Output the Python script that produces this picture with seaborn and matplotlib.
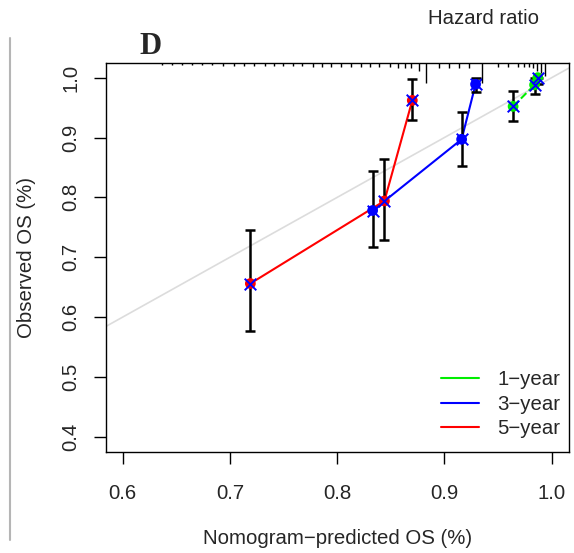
import numpy as np
import pandas as pd
import matplotlib
matplotlib.use("Agg")
import matplotlib.pyplot as plt
import seaborn as sns
from matplotlib.lines import Line2D
from matplotlib.transforms import blended_transform_factory

# ---------------- data ----------------
series_names = ["1\u2212year", "3\u2212year", "5\u2212year"]
series_colors = ["#00ee00", "#0000ff", "#ff0000"]

pred_1y = [0.964, 0.984, 0.987]
obs_1y = [0.952, 0.988, 1.000]
lo_1y = [0.928, 0.973, 0.990]
hi_1y = [0.978, 1.000, 1.000]

pred_3y = [0.833, 0.916, 0.929]
obs_3y = [0.778, 0.897, 0.989]
lo_3y = [0.717, 0.852, 0.976]
hi_3y = [0.844, 0.942, 1.000]

pred_5y = [0.719, 0.844, 0.870]
obs_5y = [0.656, 0.794, 0.962]
lo_5y = [0.576, 0.729, 0.930]
hi_5y = [0.745, 0.864, 0.997]

# distribution of predicted values (rug along the top)
rug_x = [0.6366, 0.6460, 0.6553, 0.6646, 0.6739, 0.6833, 0.6935, 0.7038, 0.7131,
         0.7225, 0.7327, 0.7411, 0.7495, 0.7588, 0.7672, 0.7775, 0.7859, 0.7943,
         0.8036, 0.8129, 0.8222, 0.8306, 0.8390, 0.8493, 0.8567, 0.8632, 0.8688,
         0.8763, 0.8828, 0.8949, 0.9043, 0.9136, 0.9229, 0.9350, 0.9500, 0.9593,
         0.9686, 0.9742, 0.9788, 0.9826, 0.9863, 0.9900, 0.9937]
rug_freq = [0.6, 0.6, 0.6, 0.6, 0.6, 0.6, 1, 1, 1,
            1, 1, 1, 1, 1, 1, 1.6, 1.6, 1.6,
            1.6, 1.6, 1.6, 1.6, 1.6, 1.6, 2, 2, 2,
            3, 8, 2, 2, 2, 2, 8, 1.6, 1.6,
            1.6, 1.6, 1.6, 2, 3, 4, 5]

x_ticks = [0.6, 0.7, 0.8, 0.9, 1.0]
y_ticks = [0.4, 0.5, 0.6, 0.7, 0.8, 0.9, 1.0]

frames = []
for name, p, o, lo, hi in zip(series_names,
                              [pred_1y, pred_3y, pred_5y],
                              [obs_1y, obs_3y, obs_5y],
                              [lo_1y, lo_3y, lo_5y],
                              [hi_1y, hi_3y, hi_5y]):
    frames.append(pd.DataFrame({"series": name, "pred": p, "obs": o, "lo": lo, "hi": hi}))
df = pd.concat(frames, ignore_index=True)
palette = dict(zip(series_names, series_colors))

# ---------------- figure ----------------
sns.set_style("white")
plt.rcParams["font.family"] = ["Liberation Sans", "DejaVu Sans"]
FS = 14.7

W, H = 574, 553
fig = plt.figure(figsize=(W / 100, H / 100), dpi=100)
ax = fig.add_axes([105.7 / W, 1 - 451.7 / H, (569.3 - 105.7) / W, (451.7 - 63.3) / H])

xlim = (0.5841, 1.0164)
ylim = (0.375, 1.024)

# diagonal reference
ax.plot([0, 1.2], [0, 1.2], color="#dcdcdc", lw=1.2, zorder=1)

# lines
for name in series_names:
    sub = df[df.series == name]
    sns.lineplot(data=sub, x="pred", y="obs", color=palette[name], lw=1.5,
                 ax=ax, sort=True, estimator=None, zorder=2,
                 linestyle="--" if name == series_names[0] else "-",
                 dashes=False)

# error bars
ax.errorbar(df["pred"], df["obs"],
            yerr=[df["obs"] - df["lo"], df["hi"] - df["obs"]],
            fmt="none", ecolor="black", elinewidth=1.8, capsize=3.6, capthick=1.8, zorder=3)

# points
sns.scatterplot(data=df, x="pred", y="obs", hue="series", palette=palette,
                s=60, edgecolor="none", legend=False, ax=ax, zorder=4)
sns.scatterplot(data=df, x="pred", y="obs", color="#0000ff", marker="x",
                s=70, linewidth=1.4, legend=False, ax=ax, zorder=5)

# rug of predicted distribution along the top
trans = blended_transform_factory(ax.transData, ax.transAxes)
unit = 2.5 / 388.4
ax.vlines(rug_x, [1 - f * unit for f in rug_freq], 1, transform=trans,
          color="black", lw=1.0, zorder=6)

ax.set_xlim(*xlim)
ax.set_ylim(*ylim)
ax.set_xticks(x_ticks)
ax.set_yticks(y_ticks)
ax.set_xticklabels([f"{v:.1f}" for v in x_ticks])
ax.set_yticklabels([f"{v:.1f}" for v in y_ticks], rotation=90, va="center")
ax.tick_params(axis="both", direction="out", length=8.3, width=1, color="black",
               labelsize=FS, bottom=True, left=True)
ax.tick_params(axis="x", pad=15)
ax.tick_params(axis="y", pad=10)
for s in ax.spines.values():
    s.set_color("black")
    s.set_linewidth(1.0)

ax.set_xlabel("Nomogram\u2212predicted OS (%)", fontsize=FS, labelpad=19)
ax.set_ylabel("Observed OS (%)", fontsize=FS, labelpad=18)

handles = [Line2D([0], [0], color=c, lw=1.5) for c in series_colors]
ax.legend(handles, series_names, loc="upper left", frameon=False, fontsize=FS,
          handlelength=1.86, handletextpad=0.88, labelspacing=0.27,
          borderpad=0.4, borderaxespad=0,
          bbox_to_anchor=(433 / W, 1 - 362 / H), bbox_transform=fig.transFigure)

fig.text(151 / W, 1 - 46 / H, "D", fontfamily=["Liberation Serif", "DejaVu Serif"],
         fontweight="bold", fontsize=22, ha="center", va="center")
fig.text(483 / W, 1 - 18 / H, "Hazard ratio", fontsize=FS, ha="center", va="center")
fig.add_artist(Line2D([10 / W, 10 / W], [1 - 38 / H, 1 - 540 / H], color="#b5b5b5", lw=1.5))

fig.savefig("out.png", dpi=100)
